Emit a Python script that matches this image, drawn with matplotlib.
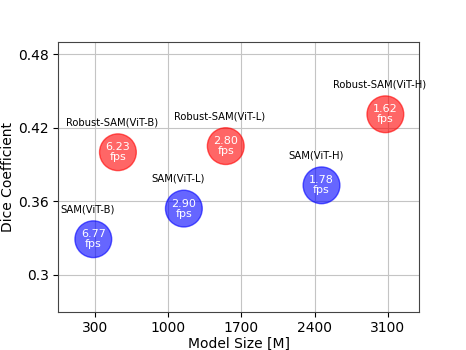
import matplotlib
matplotlib.use("Agg")
import matplotlib.pyplot as plt

# data
names = ['SAM(ViT-B)', 'Robust-SAM(ViT-B)', 'SAM(ViT-L)', 'Robust-SAM(ViT-L)',
         'SAM(ViT-H)', 'Robust-SAM(ViT-H)']
model_size = [285, 520, 1150, 1550, 2465, 3075]
dice = [0.329, 0.400, 0.354, 0.405, 0.373, 0.431]
fps = ['6.77', '6.23', '2.90', '2.80', '1.78', '1.62']
colors = ['blue', 'red', 'blue', 'red', 'blue', 'red']

x_ticks = [300, 1000, 1700, 2400, 3100]
y_ticks = [0.3, 0.36, 0.42, 0.48]
y_ticklabels = ['0.3', '0.36', '0.42', '0.48']

fig, ax = plt.subplots(figsize=(4.66, 3.5), dpi=100)
fig.subplots_adjust(left=0.125, right=0.9, top=0.88, bottom=0.11)

ax.scatter(model_size, dice, s=700, c=colors, alpha=0.6, zorder=3)

for x, y, n, f in zip(model_size, dice, names, fps):
    ax.text(x, y, f + '\nfps', color='white', ha='center', va='center',
            fontsize=8, linespacing=1.0, zorder=4)
    ax.text(x - 55, y + 0.0245, n, ha='center', va='center', fontsize=7.2, zorder=4)

ax.set_xlim(-50, 3400)
ax.set_ylim(0.27, 0.49)
ax.set_xticks(x_ticks)
ax.set_yticks(y_ticks)
ax.set_yticklabels(y_ticklabels)
ax.tick_params(labelsize=10)
ax.grid(True, color='#c4c4c4', linewidth=0.8, zorder=0)
ax.set_axisbelow(True)
for s in ax.spines.values():
    s.set_color('#444444')
ax.set_xlabel('Model Size [M]', fontsize=10, labelpad=1)
ax.set_ylabel('Dice Coefficient', fontsize=10, labelpad=2)

fig.savefig('out.png', dpi=100)
